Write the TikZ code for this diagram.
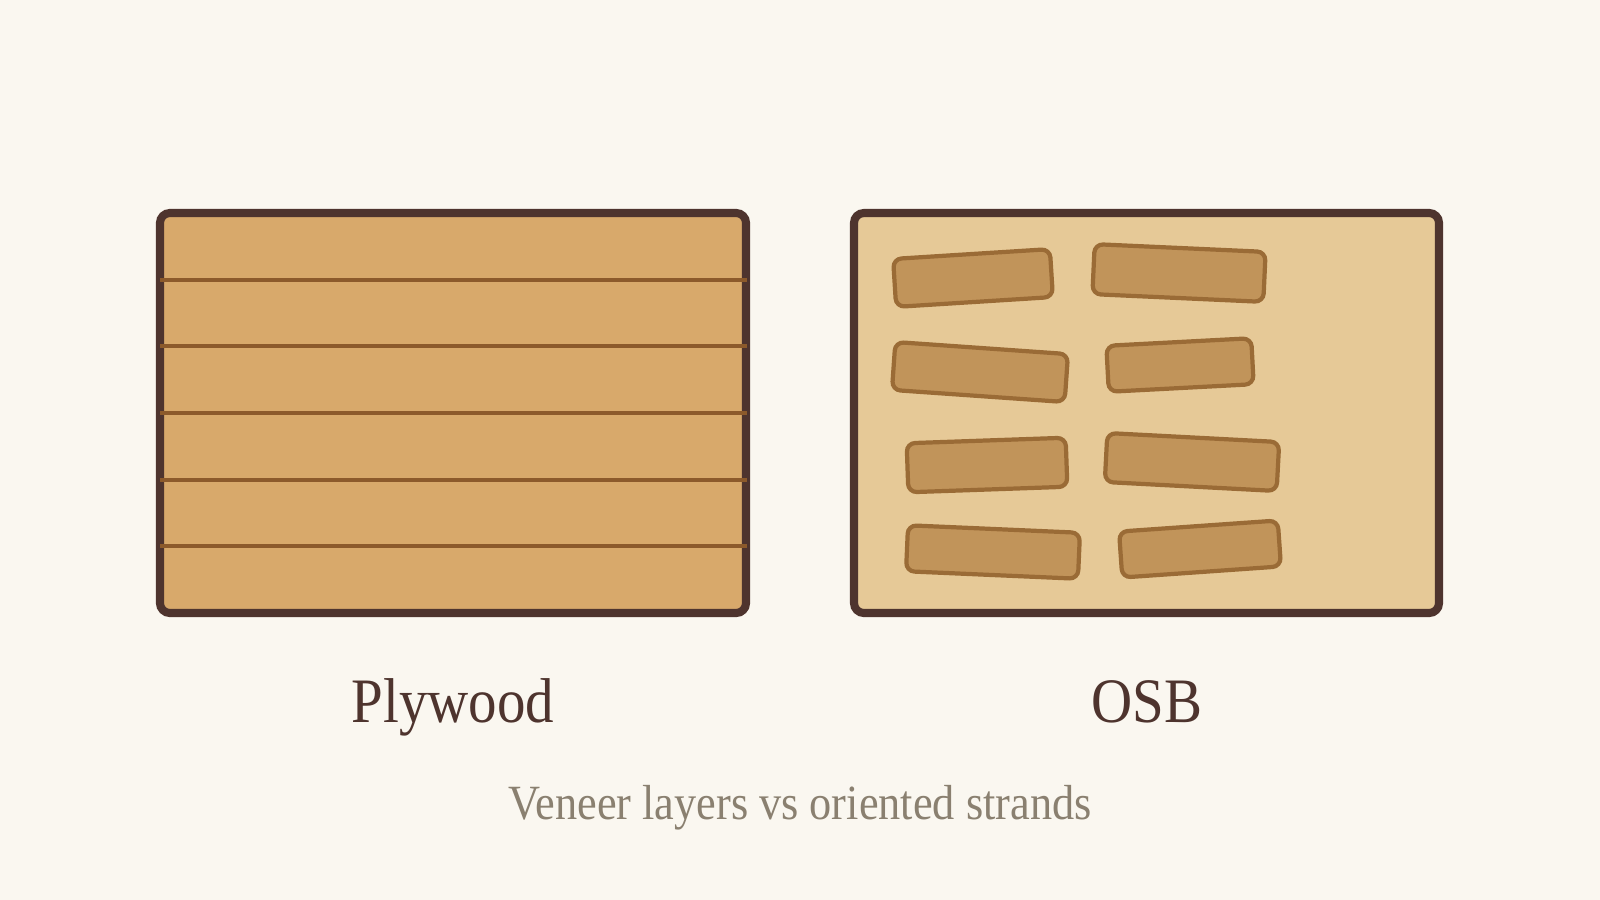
\documentclass[tikz,border=0pt]{standalone}
\usepackage{fontspec}
\setmainfont{Liberation Serif}[FakeStretch=0.9]

\definecolor{paper}{HTML}{FAF7F0}
\definecolor{edge}{HTML}{4E342E}
\definecolor{plyfill}{HTML}{D8A96B}
\definecolor{glueline}{HTML}{8C5A2B}
\definecolor{osbfill}{HTML}{E6C997}
\definecolor{strandfill}{HTML}{C1945A}
\definecolor{strandedge}{HTML}{9A6B36}
\definecolor{captiongray}{HTML}{8A8070}

\tikzset{
    board/.style={draw=edge, line width=2.3pt, rounded corners=2.8pt},
    glue/.style={draw=glueline, line width=1.1pt},
    strand/.style={draw=strandedge, fill=strandfill, line width=1.2pt,
        rounded corners=2.4pt, rectangle, inner sep=0pt},
    title/.style={text=edge, font=\fontsize{18pt}{22pt}\selectfont, inner sep=0pt},
    subtitle/.style={text=captiongray, font=\fontsize{14pt}{17pt}\selectfont, inner sep=0pt}
}

\begin{document}
\begin{tikzpicture}[x=0.01cm, y=-0.01cm]
        \fill[paper] (0, 0) rectangle (1600, 900);
        \useasboundingbox (0, 0) rectangle (1600, 900);

        % plywood: stacked veneers
        \draw[board, fill=plyfill] (160, 213) rectangle (746, 613);

        \draw[glue] (160, 279.7) -- (747, 279.7);
        \draw[glue] (160, 346.3) -- (747, 346.3);
        \draw[glue] (160, 413) -- (747, 413);
        \draw[glue] (160, 479.7) -- (747, 479.7);
        \draw[glue] (160, 546.3) -- (747, 546.3);

        % osb: loose strands
        \draw[board, fill=osbfill] (854, 213) rectangle (1439, 613);

        \node[strand, minimum width=1.57cm, minimum height=0.48cm, rotate=3.6] (s1) at (973, 278) {};
        \node[strand, minimum width=1.71cm, minimum height=0.50cm, rotate=-2.6] (s2) at (1179, 273) {};
        \node[strand, minimum width=1.73cm, minimum height=0.48cm, rotate=-4] (s3) at (980, 372) {};
        \node[strand, minimum width=1.45cm, minimum height=0.46cm, rotate=3] (s4) at (1180, 365) {};
        \node[strand, minimum width=1.59cm, minimum height=0.49cm, rotate=2] (s5) at (987, 465) {};
        \node[strand, minimum width=1.72cm, minimum height=0.49cm, rotate=-3] (s6) at (1192, 462) {};
        \node[strand, minimum width=1.72cm, minimum height=0.46cm, rotate=-2.5] (s7) at (993, 552) {};
        \node[strand, minimum width=1.59cm, minimum height=0.46cm, rotate=4] (s8) at (1200, 549) {};

        % labels
        \node[title, anchor=base] (plylabel) at (453, 722) {Plywood};
        \node[title, anchor=base] (osblabel) at (1147, 722) {OSB};
        \node[subtitle, anchor=base] (caption) at (800, 819) {Veneer layers vs oriented strands};
    \end{tikzpicture}
\end{document}
